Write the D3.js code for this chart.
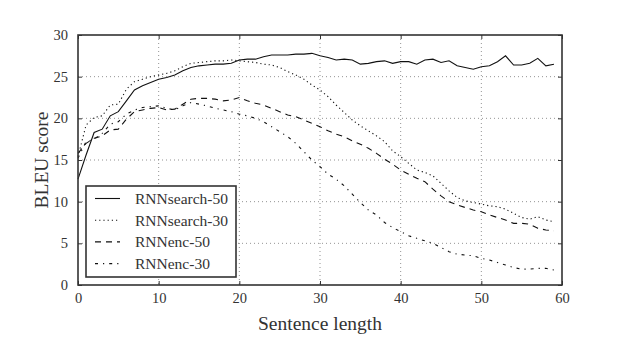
<!DOCTYPE html>
<html><head><meta charset="utf-8">
<script src="https://cdn.jsdelivr.net/npm/d3@7"></script>
<style>body{margin:0;background:#fff}svg{display:block}</style>
</head><body><svg id="c" width="624" height="356"></svg>
<script>
const lengths = d3.range(0, 60);
const rnnsearch50 = [12.7,15.6,18.3,18.7,20.3,20.8,22.1,23.4,23.9,24.3,24.7,24.9,25.2,25.7,26.1,26.3,26.4,26.5,26.5,26.6,27.0,27.1,27.1,27.4,27.6,27.6,27.6,27.7,27.7,27.8,27.5,27.3,27.0,27.1,27.0,26.5,26.6,26.8,26.9,26.6,26.8,26.8,26.5,27.0,27.1,26.7,26.9,26.3,26.1,25.9,26.2,26.3,26.8,27.5,26.4,26.4,26.6,27.2,26.3,26.5];
const rnnsearch30 = [15.4,19.2,20.1,20.3,21.6,21.7,23.5,24.4,24.7,25.0,25.2,25.4,25.7,26.2,26.6,26.7,26.8,26.9,26.9,27.0,26.9,26.8,26.7,26.5,26.4,26.1,25.6,25.2,24.7,24.0,23.4,22.6,21.6,20.7,19.8,19.1,18.5,17.9,17.2,16.1,15.4,14.6,13.8,13.5,13.1,12.2,11.3,10.5,10.1,9.9,9.7,9.5,9.4,9.1,8.6,8.1,7.9,8.2,7.8,7.6];
const rnnenc50 = [15.8,17.0,17.6,17.9,18.6,18.7,19.9,20.8,21.0,21.2,21.3,21.0,21.1,21.7,22.3,22.4,22.4,22.3,22.1,22.2,22.5,22.1,21.8,21.6,21.2,20.8,20.4,20.2,19.8,19.4,19.0,18.5,18.1,17.8,17.3,16.9,16.4,15.8,15.1,14.5,13.8,13.3,12.8,12.4,11.5,10.7,10.0,9.6,9.3,9.0,8.8,8.4,8.1,7.8,7.4,7.4,7.3,6.8,6.6,6.5];
const rnnenc30 = [15.2,17.2,17.5,18.2,19.3,19.6,20.5,21.0,21.3,21.4,21.5,21.2,21.0,21.5,21.9,21.7,21.5,21.2,21.0,20.8,20.5,20.3,20.0,19.6,19.0,18.4,17.8,17.0,16.0,15.0,14.2,13.3,12.7,11.9,10.9,9.9,9.0,8.4,7.5,6.9,6.4,5.9,5.6,5.3,5.0,4.5,4.0,3.7,3.6,3.5,3.2,3.0,2.7,2.4,2.1,1.9,1.9,2.0,2.0,1.8];
const seriesNames = ["RNNsearch-50","RNNsearch-30","RNNenc-50","RNNenc-30"];
const xTicks = [0,10,20,30,40,50,60];
const yTicks = [0,5,10,15,20,25,30];

const FONT = "'Liberation Serif', 'DejaVu Serif', serif";
const series = [
  {name: seriesNames[0], values: rnnsearch50, dash: null},
  {name: seriesNames[1], values: rnnsearch30, dash: "1.2,3"},
  {name: seriesNames[2], values: rnnenc50, dash: "6,5"},
  {name: seriesNames[3], values: rnnenc30, dash: "3,5,1.2,5"}
];

const svg = d3.select("#c");
const L = 78, R = 562, T = 35, B = 285;
const x = d3.scaleLinear().domain([0,60]).range([L,R]);
const y = d3.scaleLinear().domain([0,30]).range([B,T]);

// grid
const g = svg.append("g");
g.selectAll(".gx").data(xTicks.slice(1,-1)).join("line")
  .attr("x1", d=>x(d)).attr("x2", d=>x(d)).attr("y1", T).attr("y2", B)
  .attr("stroke", "#777").attr("stroke-width", 0.8).attr("stroke-dasharray", "1,3");
g.selectAll(".gy").data(yTicks.slice(1,-1)).join("line")
  .attr("x1", L).attr("x2", R).attr("y1", d=>y(d)).attr("y2", d=>y(d))
  .attr("stroke", "#777").attr("stroke-width", 0.8).attr("stroke-dasharray", "1,3");

// axes (ticks inward)
const ax = svg.append("g").attr("transform", `translate(0,${B})`)
  .call(d3.axisBottom(x).tickValues(xTicks).tickSize(-4).tickPadding(8));
const ax2 = svg.append("g").attr("transform", `translate(${L},0)`)
  .call(d3.axisLeft(y).tickValues(yTicks).tickSize(-4).tickPadding(10));
const ax3 = svg.append("g").attr("transform", `translate(0,${T})`)
  .call(d3.axisTop(x).tickValues(xTicks).tickSize(-4).tickFormat(""));
const ax4 = svg.append("g").attr("transform", `translate(${R},0)`)
  .call(d3.axisRight(y).tickValues(yTicks).tickSize(-4).tickFormat(""));
[ax,ax2,ax3,ax4].forEach(a=>{
  a.attr("font-family", FONT);
  a.select(".domain").remove();
  a.selectAll(".tick line").attr("stroke","#333");
  a.selectAll("text").attr("font-size", 14.5).attr("fill","#333").attr("font-family", FONT);
});

// lines
const line = d3.line().x((d,i)=>x(lengths[i])).y(d=>y(d));
svg.append("g").selectAll("path").data(series).join("path")
  .attr("d", d=>line(d.values)).attr("fill","none").attr("stroke","#111")
  .attr("stroke-width", 1.1)
  .attr("stroke-dasharray", d=>d.dash);

// frame
svg.append("rect").attr("x",L).attr("y",T).attr("width",R-L).attr("height",B-T)
  .attr("fill","none").attr("stroke","#333").attr("stroke-width",1.6);

// axis titles
svg.append("text").attr("x",(L+R)/2).attr("y",330).attr("text-anchor","middle")
  .attr("font-family",FONT).attr("fill","#333").attr("font-size",19.5).text("Sentence length");
svg.append("text").attr("transform","translate(48,160) rotate(-90)").attr("text-anchor","middle")
  .attr("font-family",FONT).attr("fill","#333").attr("font-size",19.5).text("BLEU score");

// legend
const lg = svg.append("g");
lg.append("rect").attr("x",86).attr("y",186).attr("width",150).attr("height",91)
  .attr("fill","#fff").attr("stroke","#333").attr("stroke-width",1.6);
const rows = lg.selectAll("g.row").data(series).join("g")
  .attr("transform",(d,i)=>`translate(0,${198.5 + i*21.7})`);
rows.append("line").attr("x1",95).attr("x2",120).attr("y1",0).attr("y2",0)
  .attr("stroke","#111").attr("stroke-width",1.1).attr("stroke-dasharray",d=>d.dash);
rows.append("text").attr("x",135).attr("y",5.5).attr("font-family",FONT).attr("fill","#333")
  .attr("font-size",15.5).text(d=>d.name);
</script></body></html>
